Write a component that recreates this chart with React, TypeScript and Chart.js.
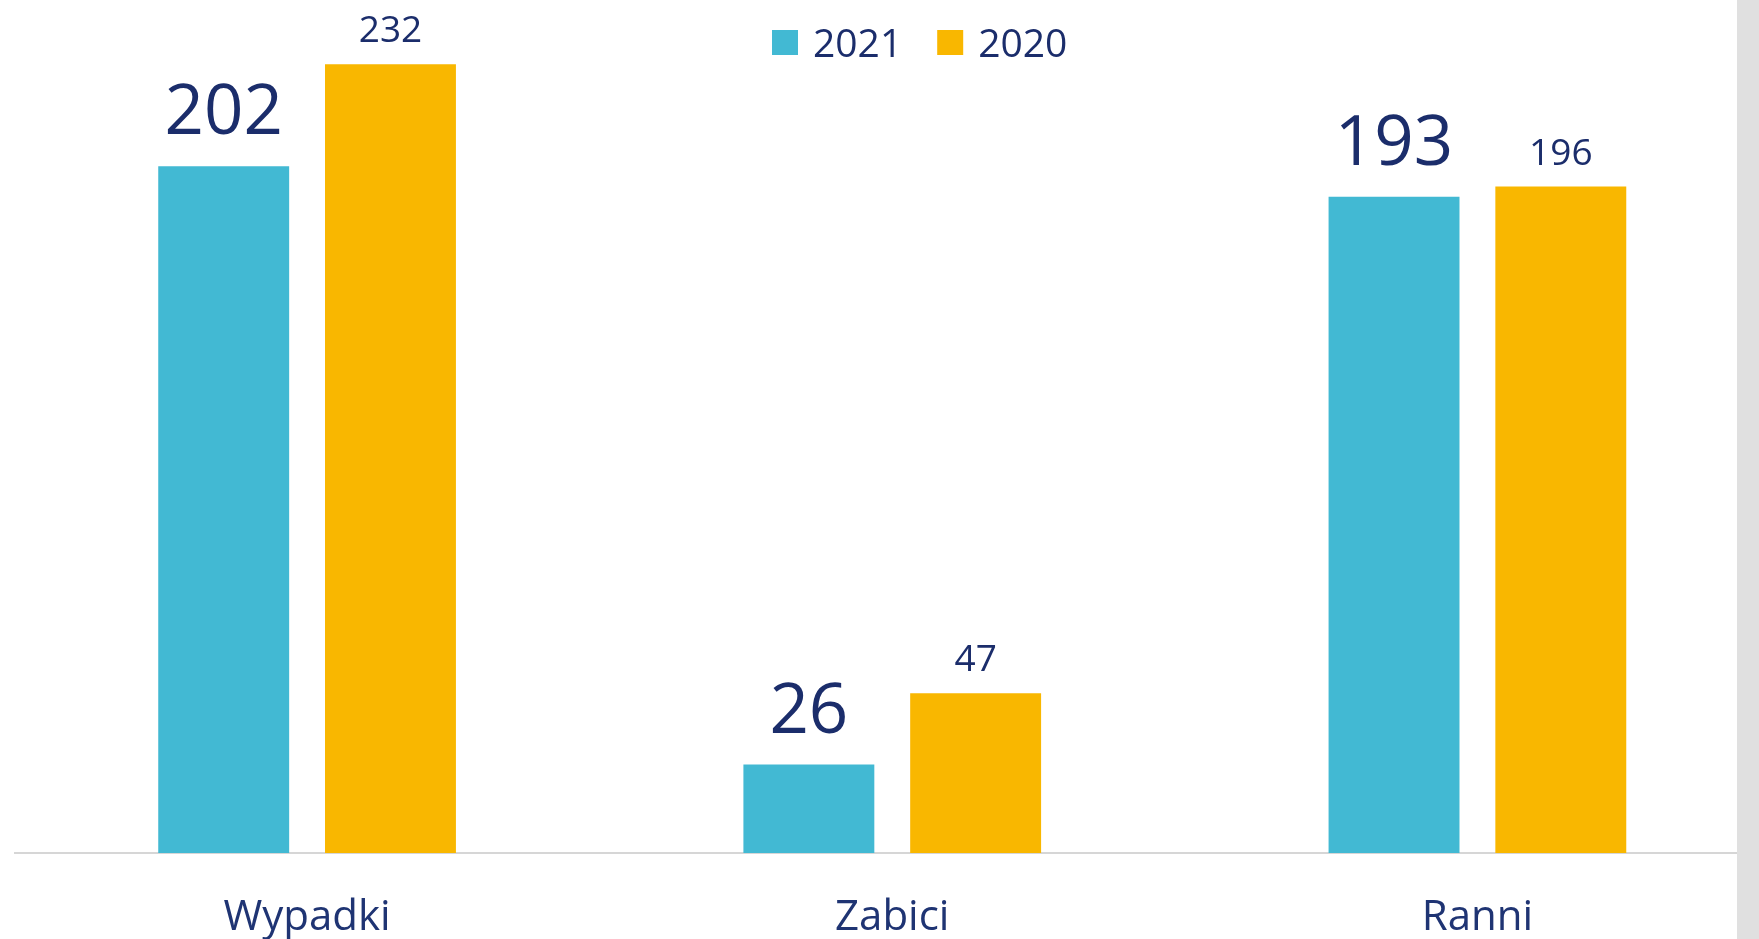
import React, { useEffect, useRef } from "react";
import { Chart, registerables } from "chart.js";

Chart.register(...registerables);

const categories = ["Wypadki", "Zabici", "Ranni"];
const seriesLabels = ["2021", "2020"];
const values2021 = [202, 26, 193];
const values2020 = [232, 47, 196];
const seriesColors = ["#42B9D3", "#F9B700"];
const yMin = 0;
const yMax = 250;

const FONT = "'Open Sans', 'Noto Sans', sans-serif";
const TEXT = "#1b2d6b";
const CAT_TEXT = "#1f3473";

export default function App() {
  const ref = useRef<HTMLCanvasElement>(null);

  useEffect(() => {
    const canvas = ref.current;
    if (!canvas) return;

    const valueLabels = {
      id: "valueLabels",
      afterDatasetsDraw(chart: any) {
        const ctx = chart.ctx;
        ctx.save();
        ctx.fillStyle = TEXT;
        ctx.textAlign = "center";
        ctx.textBaseline = "alphabetic";
        chart.data.datasets.forEach((ds: any, di: number) => {
          const meta = chart.getDatasetMeta(di);
          const big = di === 0;
          ctx.font = `${big ? 69 : 37}px ${FONT}`;
          meta.data.forEach((el: any, i: number) => {
            ctx.fillText(String(ds.data[i]), el.x, el.y - (big ? 32 : 22));
          });
        });
        ctx.restore();
      },
    };

    const topLegend = {
      id: "topLegend",
      afterDraw(chart: any) {
        const ctx = chart.ctx;
        ctx.save();
        ctx.font = `39px ${FONT}`;
        ctx.textBaseline = "alphabetic";
        ctx.textAlign = "left";
        let x = 772;
        chart.data.datasets.forEach((ds: any) => {
          ctx.fillStyle = ds.backgroundColor;
          ctx.fillRect(x, 30, 26, 25);
          x += 26 + 15;
          ctx.fillStyle = TEXT;
          ctx.fillText(ds.label, x, 57);
          x += ctx.measureText(ds.label).width + 35;
        });
        ctx.restore();
      },
    };

    const chart = new Chart(canvas, {
      type: "bar",
      data: {
        labels: categories,
        datasets: [
          {
            label: seriesLabels[0],
            data: values2021,
            backgroundColor: seriesColors[0],
            categoryPercentage: 0.57,
            barPercentage: 0.785,
          },
          {
            label: seriesLabels[1],
            data: values2020,
            backgroundColor: seriesColors[1],
            categoryPercentage: 0.57,
            barPercentage: 0.785,
          },
        ],
      },
      options: {
        responsive: false,
        animation: false,
        devicePixelRatio: 1,
        layout: { padding: { left: 14.5, right: 5, top: 3, bottom: 0 } },
        plugins: {
          legend: { display: false },
          tooltip: { enabled: false },
        },
        scales: {
          x: {
            grid: { display: false, drawTicks: false },
            border: { display: true, color: "#d6d6d6", width: 2 },
            ticks: {
              color: CAT_TEXT,
              font: { family: FONT, size: 42 },
              padding: 40,
              maxRotation: 0,
            },
            afterFit: (scale: any) => {
              scale.height = 86;
            },
          },
          y: {
            display: false,
            min: yMin,
            max: yMax,
          },
        },
      },
      plugins: [valueLabels, topLegend],
    });

    return () => chart.destroy();
  }, []);

  return (
    <div
      style={{
        position: "fixed",
        left: 0,
        top: 0,
        width: 1759,
        height: 939,
        overflow: "hidden",
        background: "#ffffff",
      }}
    >
      <canvas
        ref={ref}
        width={1775}
        height={939}
        style={{ position: "absolute", left: 0, top: 0, width: 1775, height: 939 }}
      />
      <div
        style={{
          position: "absolute",
          left: 1737,
          top: 0,
          width: 22,
          height: 939,
          background: "#e0e0e0",
        }}
      />
    </div>
  );
}
